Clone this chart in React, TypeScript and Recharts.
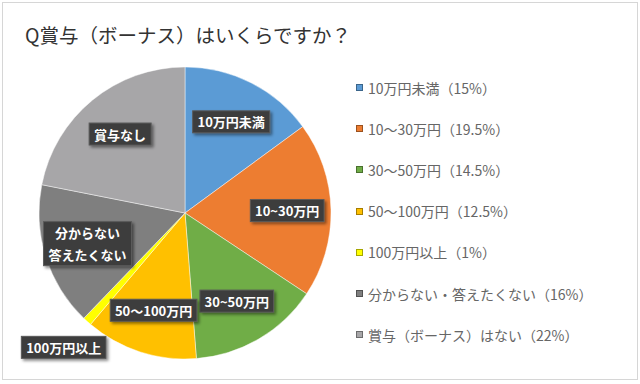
import React from 'react';
import { PieChart, Pie, Cell, Legend } from 'recharts';

// アンケート結果（%）
const legendNames = [
  '10万円未満',
  '10～30万円',
  '30～50万円',
  '50～100万円',
  '100万円以上',
  '分からない・答えたくない',
  '賞与（ボーナス）はない',
];
const labelNames = [
  '10万円未満',
  '10~30万円',
  '30~50万円',
  '50～100万円',
  '100万円以上',
  '分からない\n答えたくない',
  '賞与なし',
];
const shares = [15, 19.5, 14.5, 12.5, 1, 16, 22];
const colors = ['#5B9BD5', '#ED7D31', '#70AD47', '#FFC000', '#FFFF00', '#7F7F7F', '#A7A6A8'];

const data = shares.map((value, i) => ({ name: legendNames[i], value }));

const RAD = Math.PI / 180;
const FONT = '"Noto Sans CJK JP", "Noto Sans", sans-serif';

const textWidth = (s: string, fs: number) =>
  [...s].reduce((w, ch) => w + (ch.charCodeAt(0) < 256 ? fs * 0.58 : fs), 0);

const renderLabel = (props: any) => {
  const { cx, cy, midAngle, outerRadius, index, percent } = props;
  const r = percent < 0.05 ? outerRadius * 1.24 : outerRadius * 0.7;
  const x = cx + r * Math.cos(-midAngle * RAD);
  const y = cy + r * Math.sin(-midAngle * RAD);
  const lines = labelNames[index].split('\n');
  const fs = 13;
  const lh = 22;
  const w = Math.max(...lines.map((l) => textWidth(l, fs))) + 10;
  const h = lines.length * lh;
  return (
    <g key={`lbl-${index}`}>
      <rect
        x={x - w / 2}
        y={y - h / 2}
        width={w}
        height={h}
        fill="#3c3c3c"
        stroke="#5a5a5a"
        strokeWidth={1}
        filter="url(#lblShadow)"
      />
      {lines.map((l, j) => (
        <text
          key={j}
          x={x}
          y={y - h / 2 + lh * j + lh / 2}
          textAnchor="middle"
          dominantBaseline="central"
          fill="#ffffff"
          fontSize={fs}
          fontWeight={700}
          fontFamily={FONT}
        >
          {l}
        </text>
      ))}
    </g>
  );
};

const renderLegend = () => (
  <div style={{ fontFamily: FONT, fontSize: 14, color: '#666' }}>
    {legendNames.map((n, i) => (
      <div key={n} style={{ height: 41.2, display: 'flex', alignItems: 'center' }}>
        <span
          style={{
            display: 'inline-block',
            width: 5,
            height: 5,
            background: colors[i],
            border: '1px solid rgba(0,0,0,0.35)',
            marginRight: 5,
          }}
        />
        <span>{`${n}（${shares[i]}%）`}</span>
      </div>
    ))}
  </div>
);

export default function App() {
  return (
    <div
      style={{
        position: 'fixed',
        left: 0,
        top: 0,
        width: 640,
        height: 384,
        background: '#fff',
      }}
    >
      <svg width={0} height={0} style={{ position: 'absolute' }}>
        <defs>
          <filter id="lblShadow" x="-20%" y="-30%" width="150%" height="170%">
            <feDropShadow dx="2" dy="2" stdDeviation="1.5" floodColor="#000" floodOpacity="0.45" />
          </filter>
        </defs>
      </svg>
      <div
        style={{
          position: 'absolute',
          left: 2,
          top: 2,
          width: 634,
          height: 376,
          border: '1px solid #d6d6d6',
        }}
      />
      <div
        style={{
          position: 'absolute',
          left: 25,
          top: 24,
          fontFamily: FONT,
          fontSize: 19.5,
          lineHeight: '22px',
          color: '#333',
          whiteSpace: 'nowrap',
        }}
      >
        Q賞与（ボーナス）はいくらですか？
      </div>
      <div style={{ position: 'absolute', left: 0, top: 0 }}>
        <PieChart width={640} height={384}>
          <Pie
            data={data}
            dataKey="value"
            nameKey="name"
            cx={180}
            cy={208}
            outerRadius={146}
            startAngle={90}
            endAngle={-270}
            stroke="#ffffff"
            strokeWidth={0.75}
            strokeOpacity={0.6}
            label={renderLabel}
            labelLine={false}
            isAnimationActive={false}
          >
            {data.map((d, i) => (
              <Cell key={`cell-${i}`} fill={colors[i]} />
            ))}
          </Pie>
          <Legend
            layout="vertical"
            verticalAlign="top"
            align="right"
            wrapperStyle={{ left: 356, top: 67, width: 280 }}
            content={renderLegend}
          />
        </PieChart>
      </div>
    </div>
  );
}
